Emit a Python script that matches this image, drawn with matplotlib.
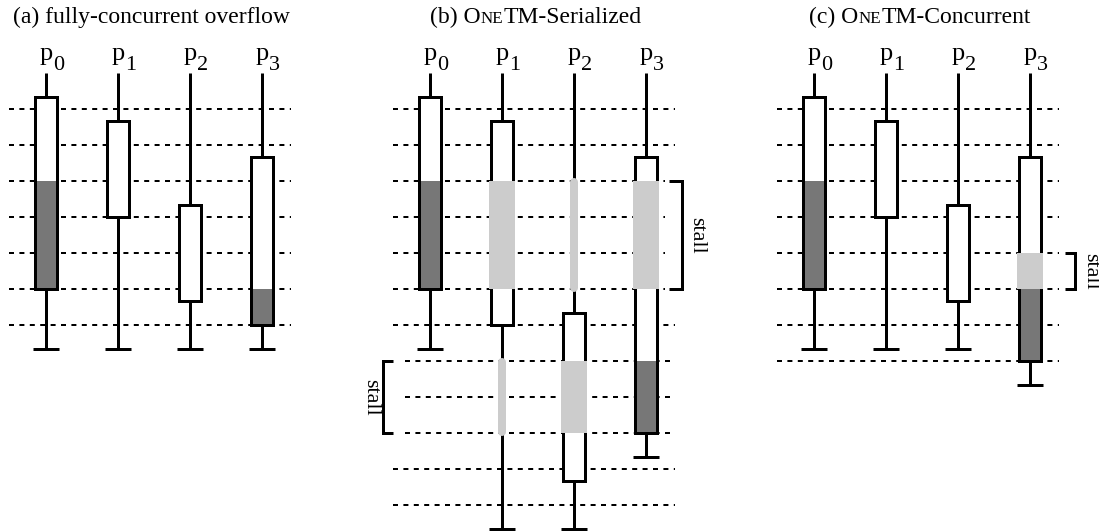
import matplotlib
matplotlib.use('Agg')
import matplotlib.pyplot as plt
from matplotlib.patches import Rectangle
from matplotlib.offsetbox import TextArea, HPacker, AnnotationBbox

plt.rcParams['font.family'] = ['Liberation Serif', 'DejaVu Serif']

# ---------------- data (levels = time slots, processes = columns) ----------------
PROC_NAME = 'p'
PROC_SUBS = ['0', '1', '2', '3']

# panel (a) fully-concurrent overflow
A_TITLE = [("(a) fully-concurrent overflow", 1.0)]
A_BOX_TOP = [-1/3, 1/3, 8/3, 4/3]
A_BOX_BOT = [5, 3, 16/3, 6]
A_TICK = [20/3, 20/3, 20/3, 20/3]
A_DARK = [[(2, 5)], [], [], [(5, 6)]]
A_GREY = [[], [], [], []]
A_THIN = [[], [], [], []]
A_LEVELS = [0, 1, 2, 3, 4, 5, 6]
A_LEVEL_X0 = [-0.51] * 7
A_LEVEL_X1 = [3.40] * 7
A_BRACKETS = []

# panel (b) ONETM-Serialized
B_TITLE = [("(b) O", 1.0), ("NE", 0.72), ("TM-Serialized", 1.0)]
B_BOX_TOP = [-1/3, 1/3, 17/3, 4/3]
B_BOX_BOT = [5, 6, 31/3, 9]
B_TICK = [20/3, 35/3, 35/3, 29/3]
B_DARK = [[(2, 5)], [], [], [(7, 9)]]
B_GREY = [[], [(2, 5)], [(7, 9)], [(2, 5)]]
B_THIN = [[], [(7, 9)], [(2, 5)], []]
B_LEVELS = [0, 1, 2, 3, 4, 5, 6, 7, 8, 9, 10, 11]
B_LEVEL_X0 = [-0.51, -0.51, -0.51, -0.51, -0.51, -0.51, -0.51, -0.35, -0.35, -0.35, -0.51, -0.51]
B_LEVEL_X1 = [3.40, 3.40, 3.26, 3.26, 3.26, 3.26, 3.40, 3.40, 3.40, 3.40, 3.40, 3.40]
# (top level, bottom level, vertical x, tick end x, label x)
B_BRACKETS = [(2, 5, 3.50, 3.32, 3.70), (7, 9, -0.65, -0.51, -0.83)]

# panel (c) ONETM-Concurrent
C_TITLE = [("(c) O", 1.0), ("NE", 0.72), ("TM-Concurrent", 1.0)]
C_BOX_TOP = [-1/3, 1/3, 8/3, 4/3]
C_BOX_BOT = [5, 3, 16/3, 7]
C_TICK = [20/3, 20/3, 20/3, 23/3]
C_DARK = [[(2, 5)], [], [], [(5, 7)]]
C_GREY = [[], [], [], [(4, 5)]]
C_THIN = [[], [], [], []]
C_LEVELS = [0, 1, 2, 3, 4, 5, 6, 7]
C_LEVEL_X0 = [-0.51] * 8
C_LEVEL_X1 = [3.40] * 8
C_BRACKETS = [(4, 5, 3.625, 3.49, 3.84)]

PANELS = [
    (A_TITLE, A_BOX_TOP, A_BOX_BOT, A_TICK, A_DARK, A_GREY, A_THIN, A_LEVELS, A_LEVEL_X0, A_LEVEL_X1, A_BRACKETS),
    (B_TITLE, B_BOX_TOP, B_BOX_BOT, B_TICK, B_DARK, B_GREY, B_THIN, B_LEVELS, B_LEVEL_X0, B_LEVEL_X1, B_BRACKETS),
    (C_TITLE, C_BOX_TOP, C_BOX_BOT, C_TICK, C_DARK, C_GREY, C_THIN, C_LEVELS, C_LEVEL_X0, C_LEVEL_X1, C_BRACKETS),
]

# ---------------- layout / style ----------------
W, H = 1099, 531
COL, ROW, TOP = 72.0, 36.0, 109.0
ORIGINS = [46, 430, 814]
XL, XR = -0.6, 3.95
LW = 2.16
DOT_LW = 1.44
BW = 0.152     # box half width (centre of border)
GW = 0.176     # grey overlay half width (covers border)
TW = 0.18      # bottom tick half width
DARK = '#777777'
LIGHT = '#cccccc'
FS = 17

fig = plt.figure(figsize=(W / 100, H / 100), dpi=100)

for origin, (title, btop, bbot, tick, dark, grey, thin, levels, lx0, lx1, brackets) in zip(ORIGINS, PANELS):
    left = (origin + XL * COL) / W
    width = (XR - XL) * COL / W
    ax = fig.add_axes([left, 0, width, 1])
    ax.set_xlim(XL, XR)
    ax.set_ylim((H - TOP) / ROW, -TOP / ROW)
    ax.axis('off')

    # dotted time lines
    for lv, x0, x1 in zip(levels, lx0, lx1):
        ax.plot([x0, x1], [lv, lv], color='k', lw=DOT_LW, ls=(0, (2.5, 2.7)),
                zorder=1, clip_on=False, dash_capstyle='butt')

    for i in range(4):
        # process line and bottom tick
        ax.plot([i, i], [-1, tick[i]], color='k', lw=LW, solid_capstyle='butt', zorder=2, clip_on=False)
        ax.plot([i - TW, i + TW], [tick[i], tick[i]], color='k', lw=LW, solid_capstyle='butt',
                zorder=2, clip_on=False)
        # box
        ax.add_patch(Rectangle((i - BW, btop[i]), 2 * BW, bbot[i] - btop[i], facecolor='white',
                               edgecolor='none', zorder=3, clip_on=False))
        for a, b in dark[i]:
            ax.add_patch(Rectangle((i - BW, a), 2 * BW, b - a, facecolor=DARK, edgecolor='none',
                                   zorder=3.5, clip_on=False))
        ax.add_patch(Rectangle((i - BW, btop[i]), 2 * BW, bbot[i] - btop[i], fill=False,
                               edgecolor='k', lw=LW, joinstyle='miter', zorder=4, clip_on=False))
        for a, b in grey[i]:
            ax.add_patch(Rectangle((i - GW, a), 2 * GW, b - a, facecolor=LIGHT, edgecolor='none',
                                   zorder=5, clip_on=False))
        for a, b in thin[i]:
            ax.plot([i, i], [a + 0.03, b - 0.03], color=LIGHT, lw=5.76, solid_capstyle='round',
                    zorder=5, clip_on=False)
        # label: p with a large, lowered subscript
        ax.text(i + 0.095, -1.36, PROC_NAME, ha='right', va='baseline', fontsize=19)
        ax.text(i + 0.10, -1.08, PROC_SUBS[i], ha='left', va='baseline', fontsize=16)

    # stall brackets
    for a, b, xv, xt, xtxt in brackets:
        ax.plot([xt, xv, xv, xt], [a, a, b, b], color='k', lw=LW, solid_joinstyle='miter',
                solid_capstyle='butt', zorder=2, clip_on=False)
        ax.text(xtxt, (a + b) / 2, 'stall', rotation=270, ha='center', va='center', fontsize=16)

    # title with small caps pieces
    parts = [TextArea(s, textprops=dict(fontsize=FS * sc, family='Liberation Serif')) for s, sc in title]
    pack = HPacker(children=parts, align='baseline', pad=0, sep=0)
    ab = AnnotationBbox(pack, (1.47, -2.55), xycoords='data', frameon=False,
                        box_alignment=(0.5, 0.5), pad=0, annotation_clip=False)
    ax.add_artist(ab)

fig.savefig('out.png', dpi=100)
